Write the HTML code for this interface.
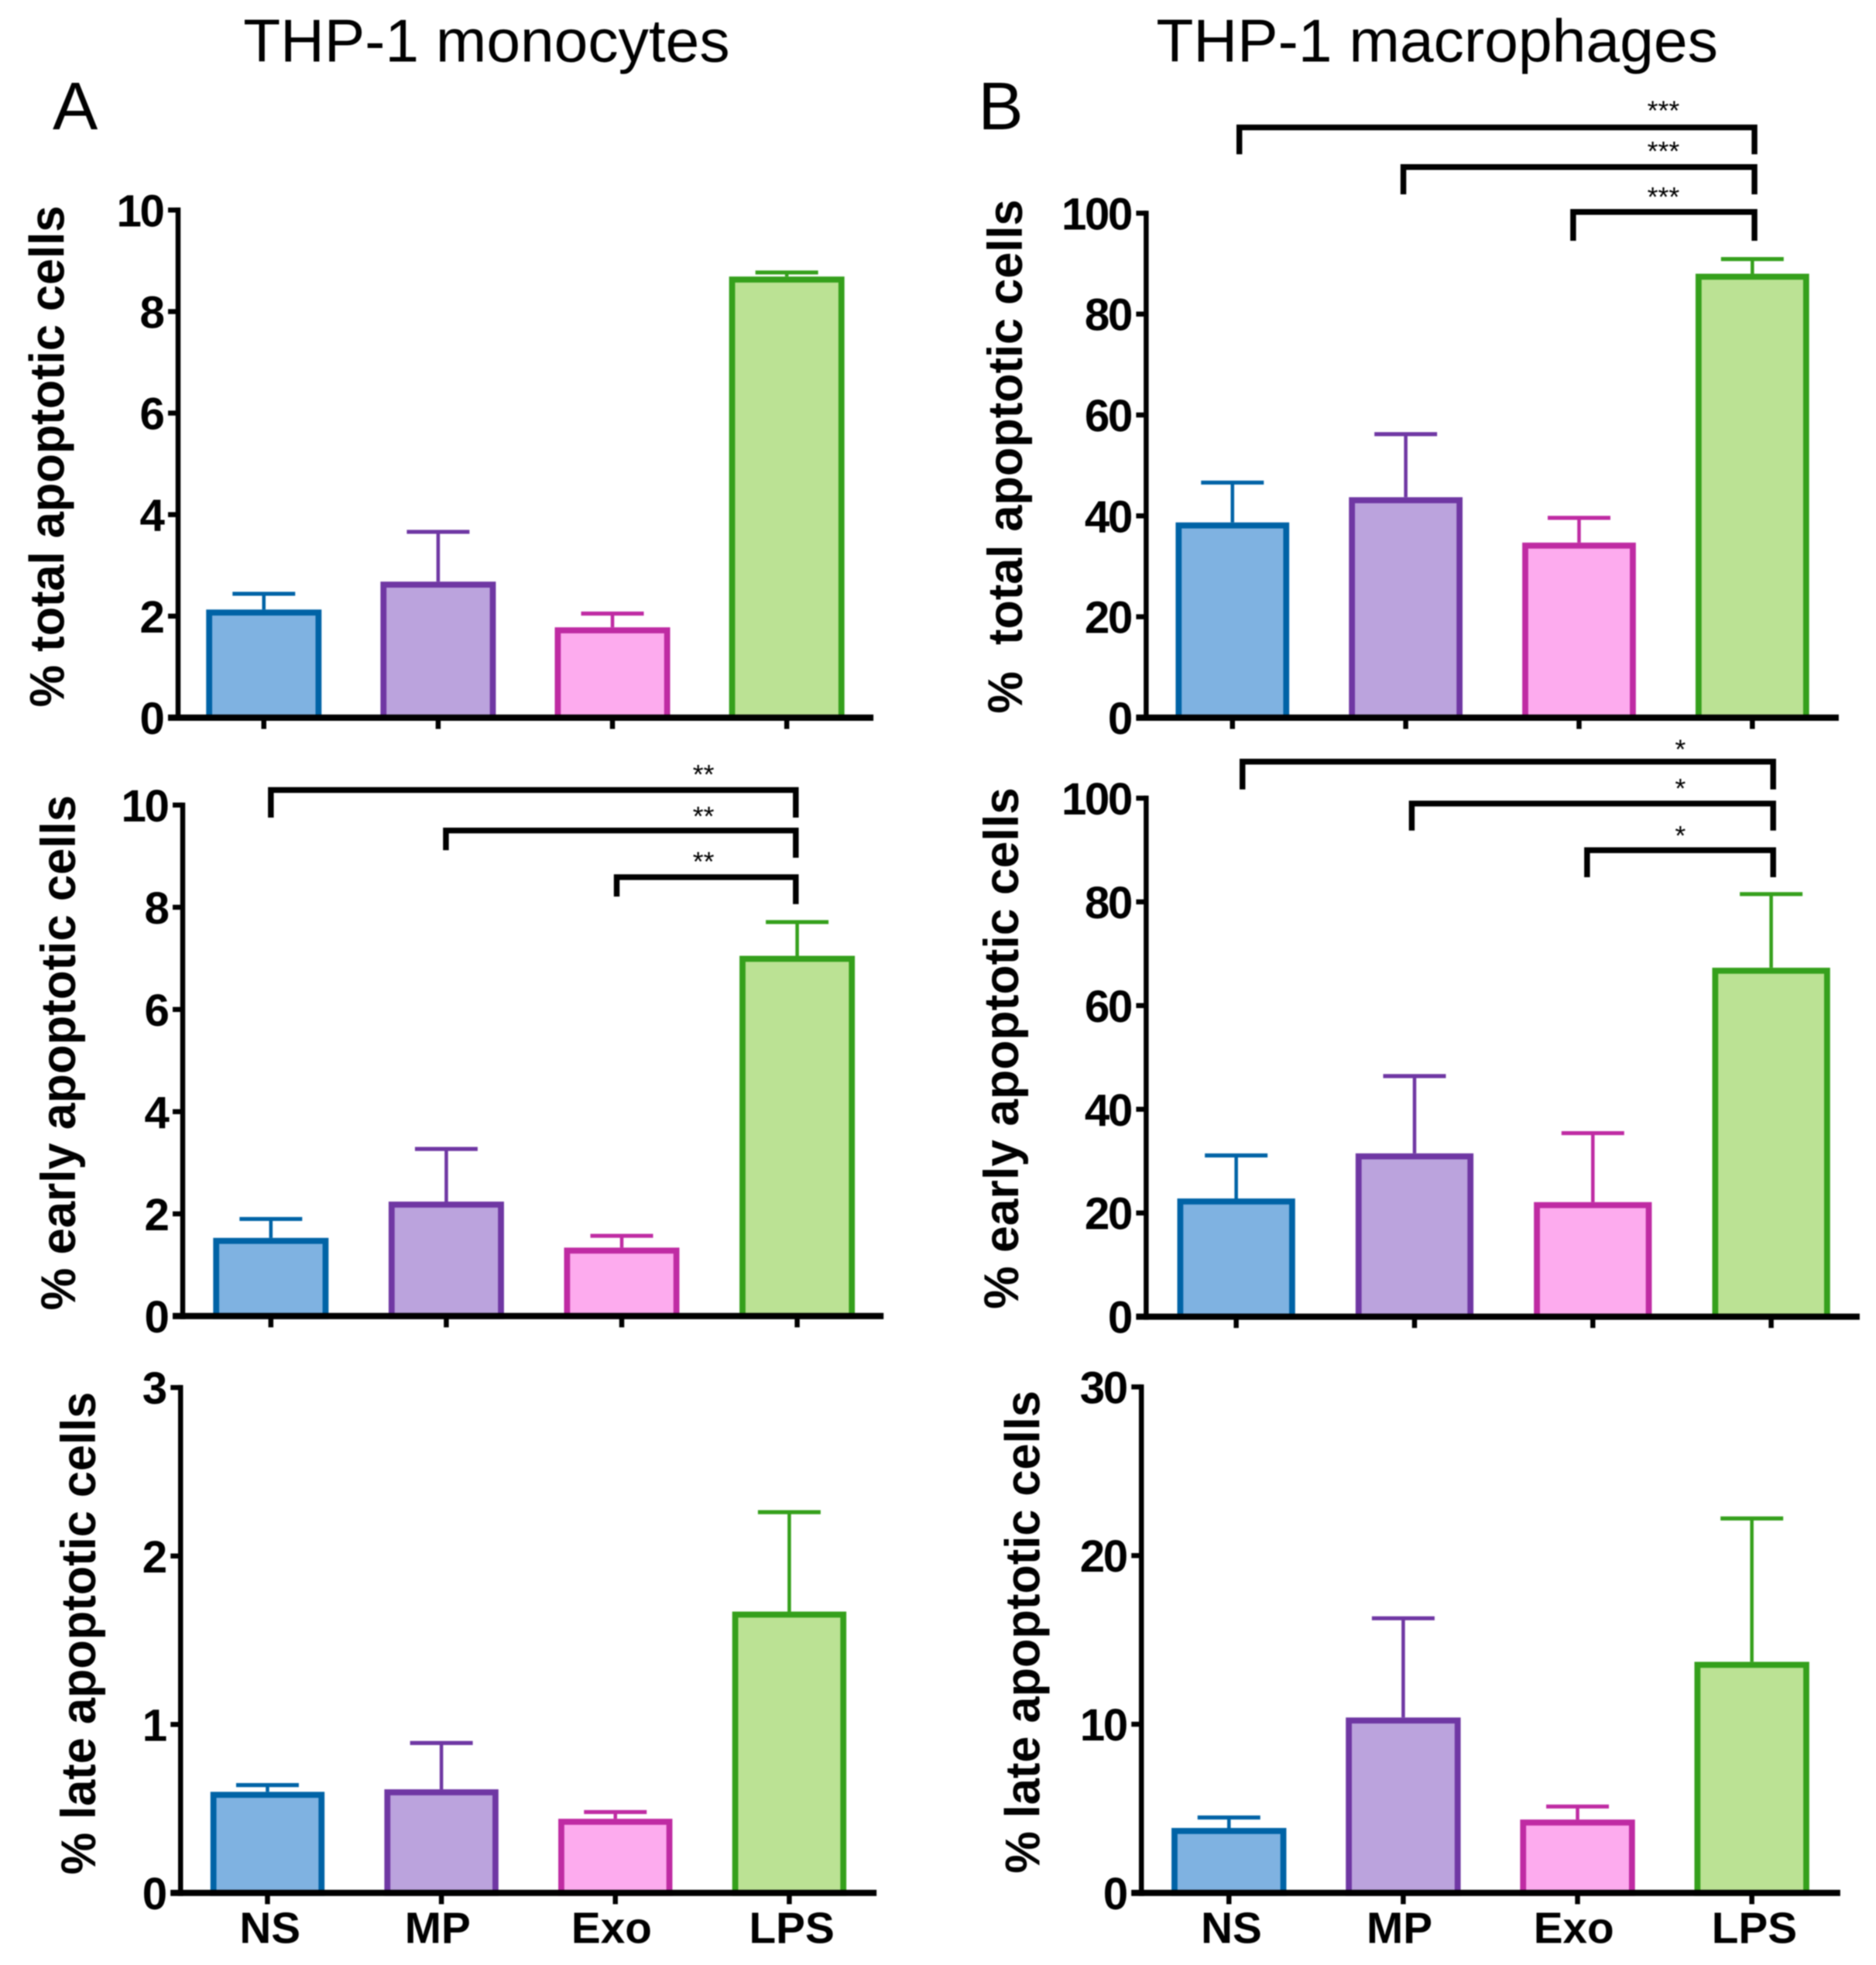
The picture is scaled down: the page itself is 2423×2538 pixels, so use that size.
<!DOCTYPE html>
<html lang="en">
<head>
<meta charset="utf-8">
<title>THP-1 apoptosis bar charts</title>
<style>
html,body{margin:0;padding:0;background:#fff;}
svg{display:block;filter:blur(0.7px);}
text{font-family:"Liberation Sans",Arial,sans-serif;fill:#000;}
.ytitle{font-weight:bold;font-size:39px;white-space:pre;}
</style>
</head>
<body>
<svg id="figure" xmlns="http://www.w3.org/2000/svg" width="2423" height="2538" viewBox="0 0 1496 1567">
  <rect x="0" y="0" width="1496" height="1567" fill="#fff"/>
  <text x="194" y="49" font-size="48" textLength="388" lengthAdjust="spacingAndGlyphs">THP-1 monocytes</text>
  <text x="922" y="49" font-size="48" textLength="448" lengthAdjust="spacingAndGlyphs">THP-1 macrophages</text>
  <text x="42" y="103" font-size="54">A</text>
  <text x="780" y="103" font-size="54">B</text>
  <text class="ytitle" transform="translate(51,564) rotate(-90)" textLength="400" lengthAdjust="spacingAndGlyphs">% total apoptotic cells</text>
  <text class="ytitle" transform="translate(60,1045) rotate(-90)" textLength="411" lengthAdjust="spacingAndGlyphs">% early apoptotic cells</text>
  <text class="ytitle" transform="translate(76,1495) rotate(-90)" textLength="385" lengthAdjust="spacingAndGlyphs">% late apoptotic cells</text>
  <text class="ytitle" transform="translate(815,569) rotate(-90)" textLength="410" lengthAdjust="spacingAndGlyphs">%  total apoptotic cells</text>
  <text class="ytitle" transform="translate(812,1044) rotate(-90)" textLength="416" lengthAdjust="spacingAndGlyphs">% early apoptotic cells</text>
  <text class="ytitle" transform="translate(829,1494) rotate(-90)" textLength="385" lengthAdjust="spacingAndGlyphs">% late apoptotic cells</text>
</svg>
<script>
const categories = ["NS", "MP", "Exo", "LPS"];

const monoTotalMeans = [2.13, 2.68, 1.78, 8.69];
const monoTotalErrorTops = [2.44, 3.66, 2.05, 8.77];
const monoTotalTicks = [0, 2, 4, 6, 8, 10];

const monoEarlyMeans = [1.53, 2.24, 1.34, 7.05];
const monoEarlyErrorTops = [1.90, 3.27, 1.57, 7.71];
const monoEarlyTicks = [0, 2, 4, 6, 8, 10];

const monoLateMeans = [0.60, 0.615, 0.44, 1.67];
const monoLateErrorTops = [0.64, 0.89, 0.48, 2.26];
const monoLateTicks = [0, 1, 2, 3];

const macroTotalMeans = [38.7, 43.7, 34.7, 88.0];
const macroTotalErrorTops = [46.6, 56.2, 39.6, 90.9];
const macroTotalTicks = [0, 20, 40, 60, 80, 100];

const macroEarlyMeans = [22.8, 31.5, 22.1, 67.3];
const macroEarlyErrorTops = [31.1, 46.4, 35.4, 81.5];
const macroEarlyTicks = [0, 20, 40, 60, 80, 100];

const macroLateMeans = [3.85, 10.4, 4.35, 13.7];
const macroLateErrorTops = [4.47, 16.28, 5.12, 22.2];
const macroLateTicks = [0, 10, 20, 30];

const strokeColors = ["#0063a6", "#6f37a3", "#bf2ba3", "#35a01c"];
const fillColors = ["#7fb2e1", "#bba3dd", "#fdabee", "#bbe294"];

const svg = document.getElementById("figure");
const NS = "http://www.w3.org/2000/svg";

function mk(tag, attrs, text) {
  const node = document.createElementNS(NS, tag);
  for (const k in attrs) node.setAttribute(k, attrs[k]);
  if (text !== undefined) node.textContent = text;
  svg.appendChild(node);
  return node;
}

function drawPanel(p, means, tops, ticks) {
  const yMax = ticks[ticks.length - 1];
  const yScale = v => p.y0 - (v / yMax) * (p.y0 - p.yTop);
  const xScale = i => p.firstCenter + i * p.pitch;

  categories.forEach((cat, i) => {
    const key = p.id + "-" + cat.toLowerCase();
    const cx = xScale(i);
    const top = yScale(means[i]);
    const errTop = yScale(tops[i]);

    const stem = mk("line", {x1: cx, x2: cx, y1: top, y2: errTop, stroke: strokeColors[i], "stroke-width": 2.8});
    
    

    const cap = mk("line", {x1: cx - 25, x2: cx + 25, y1: errTop, y2: errTop, stroke: strokeColors[i], "stroke-width": 3.2});
    
    

    const bar = mk("rect", {
      x: cx - p.barWidth / 2 + 2.4,
      y: top + 2.4,
      width: p.barWidth - 4.8,
      height: Math.max(0, p.y0 - top - 2.4),
      fill: fillColors[i],
      stroke: strokeColors[i],
      "stroke-width": 4.8
    });
    
    

    const xt = mk("line", {x1: cx, x2: cx, y1: p.y0, y2: p.y0 + 9, stroke: "#000", "stroke-width": 4});
    
    

    if (p.showLabels) {
      const offsets = [2, -3, -3, 2];
      const lab = mk("text", {x: cx + offsets[i], y: p.y0 + 40, "font-size": 35, "font-weight": "bold", "text-anchor": "middle"}, cat);
      
      
    }
  });

  const yAxis = mk("line", {x1: p.axisX, x2: p.axisX, y1: p.yTop - 2, y2: p.y0 + 2.5, stroke: "#000", "stroke-width": 4});
  
  

  const xAxis = mk("line", {x1: p.axisX - 8, x2: p.xEnd, y1: p.y0, y2: p.y0, stroke: "#000", "stroke-width": 5});
  
  

  ticks.forEach(t => {
    const y = yScale(t);
    const tk = mk("line", {x1: p.axisX - 8, x2: p.axisX, y1: y, y2: y, stroke: "#000", "stroke-width": 4});
    
    

    const lb = mk("text", {x: p.axisX - 12, y: y + 13, "font-size": 36, "font-weight": "bold", "text-anchor": "end", "letter-spacing": "-1.5"}, String(t));
    
    
  });
}

function drawBracket(id, left, right, y, leftDrop, rightDrop, starX, starY, stars) {
  const br = mk("path", {
    d: "M" + left + " " + leftDrop + "V" + y + "H" + right + "V" + rightDrop,
    fill: "none", stroke: "#000", "stroke-width": 4.6
  });
  
  

  const st = mk("text", {x: starX, y: starY + 9, "font-size": 22, "text-anchor": "middle"}, stars);
  
  
}

drawPanel({id: "mono-total", axisX: 142, xEnd: 696.5, y0: 572.3, yTop: 167.5, firstCenter: 210.4, pitch: 139, barWidth: 92, showLabels: false},
  monoTotalMeans, monoTotalErrorTops, monoTotalTicks);
drawPanel({id: "mono-early", axisX: 145.7, xEnd: 704.6, y0: 1049.5, yTop: 642, firstCenter: 216, pitch: 139.9, barWidth: 92, showLabels: false},
  monoEarlyMeans, monoEarlyErrorTops, monoEarlyTicks);
drawPanel({id: "mono-late", axisX: 144, xEnd: 699, y0: 1509.5, yTop: 1106.5, firstCenter: 213.3, pitch: 138.7, barWidth: 91, showLabels: true},
  monoLateMeans, monoLateErrorTops, monoLateTicks);
drawPanel({id: "macro-total", axisX: 914, xEnd: 1466.3, y0: 572.3, yTop: 170, firstCenter: 982.8, pitch: 138.2, barWidth: 90.6, showLabels: false},
  macroTotalMeans, macroTotalErrorTops, macroTotalTicks);
drawPanel({id: "macro-early", axisX: 914, xEnd: 1483, y0: 1050, yTop: 636.5, firstCenter: 985.8, pitch: 142.2, barWidth: 94, showLabels: false},
  macroEarlyMeans, macroEarlyErrorTops, macroEarlyTicks);
drawPanel({id: "macro-late", axisX: 910.2, xEnd: 1467.5, y0: 1509.5, yTop: 1106, firstCenter: 980, pitch: 139, barWidth: 91.6, showLabels: true},
  macroLateMeans, macroLateErrorTops, macroLateTicks);

drawBracket("mono-early-ns-lps", 216, 634.6, 630, 652, 652, 561, 616, "**");
drawBracket("mono-early-mp-lps", 355.6, 634.6, 662.3, 678, 684, 561, 649.5, "**");
drawBracket("mono-early-exo-lps", 491.8, 634.6, 699.5, 715, 721, 561, 685.7, "**");

drawBracket("macro-total-ns-lps", 988.3, 1399.1, 101.6, 123, 123, 1326.5, 86.7, "***");
drawBracket("macro-total-mp-lps", 1119.1, 1399.1, 133.2, 155, 155, 1326.5, 119, "***");
drawBracket("macro-total-exo-lps", 1254.5, 1399.1, 169, 192, 192, 1326.5, 155.5, "***");

drawBracket("macro-early-ns-lps", 990.8, 1414, 607.4, 629.5, 629.5, 1340, 596, "*");
drawBracket("macro-early-mp-lps", 1125.8, 1414, 640.8, 662.3, 662.3, 1340, 627.4, "*");
drawBracket("macro-early-exo-lps", 1265.6, 1414, 678, 699.5, 699.5, 1340, 665, "*");
</script>
</body>
</html>
